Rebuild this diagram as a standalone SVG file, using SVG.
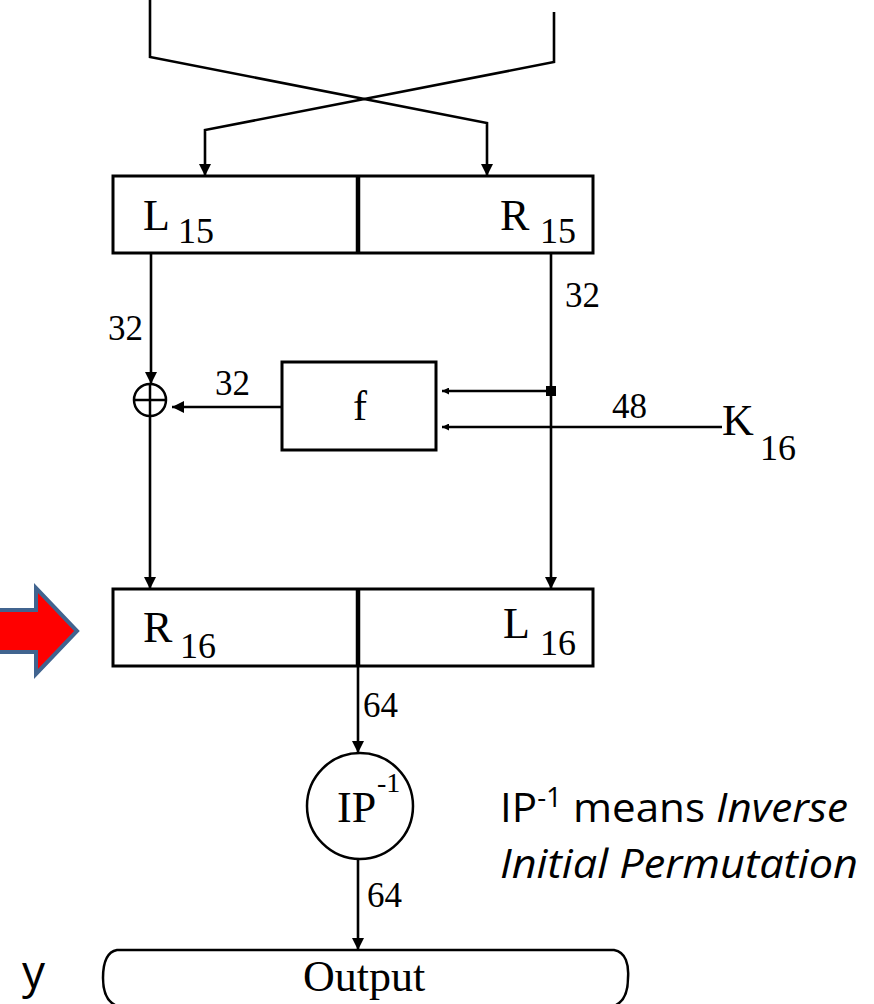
<svg xmlns="http://www.w3.org/2000/svg" width="874" height="1004" viewBox="0 0 874 1004">
<style>
.ln{fill:none;stroke:#000;stroke-width:2.6}
.bx{fill:#fff;stroke:#000;stroke-width:3}
.dv{stroke:#000;stroke-width:4.5}
.t{font-family:"Liberation Serif",serif;fill:#000}
.c{font-family:"Open Sans","Liberation Sans",sans-serif;fill:#000}
</style>
<defs>
<marker id="arr" viewBox="0 0 10 10" refX="10" refY="5" markerWidth="14" markerHeight="12" markerUnits="userSpaceOnUse" orient="auto"><path d="M0,0 L10,5 L0,10 z" fill="#000"/></marker>
<marker id="arrs" viewBox="0 0 10 10" refX="10" refY="5" markerWidth="8" markerHeight="7" markerUnits="userSpaceOnUse" orient="auto"><path d="M0,0 L10,5 L0,10 z" fill="#000"/></marker>
</defs>
<rect width="874" height="1004" fill="#fff"/>

<g id="connectors">
<path class="ln" d="M150,0 V57 L487,123 V176" marker-end="url(#arr)"/>
<path class="ln" d="M554,12 V62 L205,130 V176" marker-end="url(#arr)"/>
<path class="ln" d="M151,253 V384" marker-end="url(#arr)"/>
<path class="ln" d="M551,253 V589" marker-end="url(#arr)"/>
<path class="ln" d="M551,391 H442" marker-end="url(#arrs)"/>
<path class="ln" d="M722,427 H442" marker-end="url(#arrs)"/>
<path class="ln" d="M282,407 H172" marker-end="url(#arr)"/>
<path class="ln" d="M150,416 V589" marker-end="url(#arr)"/>
<path class="ln" d="M358,666 V753" marker-end="url(#arr)"/>
<path class="ln" d="M358,860 V950" marker-end="url(#arr)"/>
<path class="ln" d="M374,1000 V1004"/>
<rect x="546" y="386" width="10" height="10" fill="#000"/>
<text class="t" x="108" y="340" font-size="35">32</text>
<text class="t" x="215" y="395" font-size="35">32</text>
<text class="t" x="565" y="307" font-size="35">32</text>
<text class="t" x="612" y="418" font-size="35">48</text>
<text class="t" x="363" y="717" font-size="35">64</text>
<text class="t" x="367" y="907" font-size="35">64</text>
</g>

<g id="top-box">
<rect class="bx" x="113" y="176" width="480" height="77"/>
<line class="dv" x1="358" y1="176" x2="358" y2="253"/>
<text class="t" x="143" y="230" font-size="44">L</text>
<text class="t" x="178" y="243" font-size="36">15</text>
<text class="t" x="500" y="230" font-size="44">R</text>
<text class="t" x="540" y="243" font-size="36">15</text>
</g>

<g id="xor">
<circle cx="150" cy="400" r="16" fill="#fff" stroke="#000" stroke-width="2.5"/>
<path d="M134,400 H166 M150,384 V416" stroke="#000" stroke-width="2.5"/>
</g>

<g id="f-box">
<rect class="bx" x="282" y="362" width="154" height="88"/>
<text class="t" x="360" y="420" font-size="42" text-anchor="middle">f</text>
</g>

<g id="key">
<text class="t" x="722" y="435" font-size="44">K</text>
<text class="t" x="760" y="460" font-size="36">16</text>
</g>

<g id="bottom-box">
<rect class="bx" x="113" y="589" width="480" height="77"/>
<line class="dv" x1="358" y1="589" x2="358" y2="666"/>
<text class="t" x="143" y="642" font-size="44">R</text>
<text class="t" x="180" y="658" font-size="36">16</text>
<text class="t" x="503" y="638" font-size="44">L</text>
<text class="t" x="540" y="655" font-size="36">16</text>
</g>

<g id="red-arrow">
<polygon points="-6,610 36,610 36,588 77,631 36,674 36,652 -6,652" fill="#ff0000" stroke="#41648f" stroke-width="4" stroke-linejoin="miter"/>
</g>

<g id="ip-inverse">
<circle cx="360" cy="806" r="53" fill="#fff" stroke="#000" stroke-width="2.5"/>
<text class="t" x="337" y="822" font-size="44">IP</text>
<text class="t" x="377" y="792" font-size="28">-1</text>
</g>

<g id="output">
<path d="M117,950 H614 C626,952 629,965 628,978 C628,992 624,1002 614,1006 H117 C107,1002 103,992 103,978 C103,965 106,952 117,950 Z" fill="#fff" stroke="#000" stroke-width="2.5"/>
<text class="t" x="364" y="991" font-size="44" text-anchor="middle">Output</text>
</g>

<g id="y-label">
<text class="c" x="22" y="988" font-size="46">y</text>
</g>

<g id="note">
<text class="c" x="500" y="822" font-size="41" textLength="348" lengthAdjust="spacingAndGlyphs">IP<tspan dy="-15" font-size="27">-1</tspan><tspan dy="15"> means </tspan><tspan font-style="italic">Inverse</tspan></text>
<text class="c" x="500" y="878" font-size="41" font-style="italic" textLength="358" lengthAdjust="spacingAndGlyphs">Initial Permutation</text>
</g>
</svg>
